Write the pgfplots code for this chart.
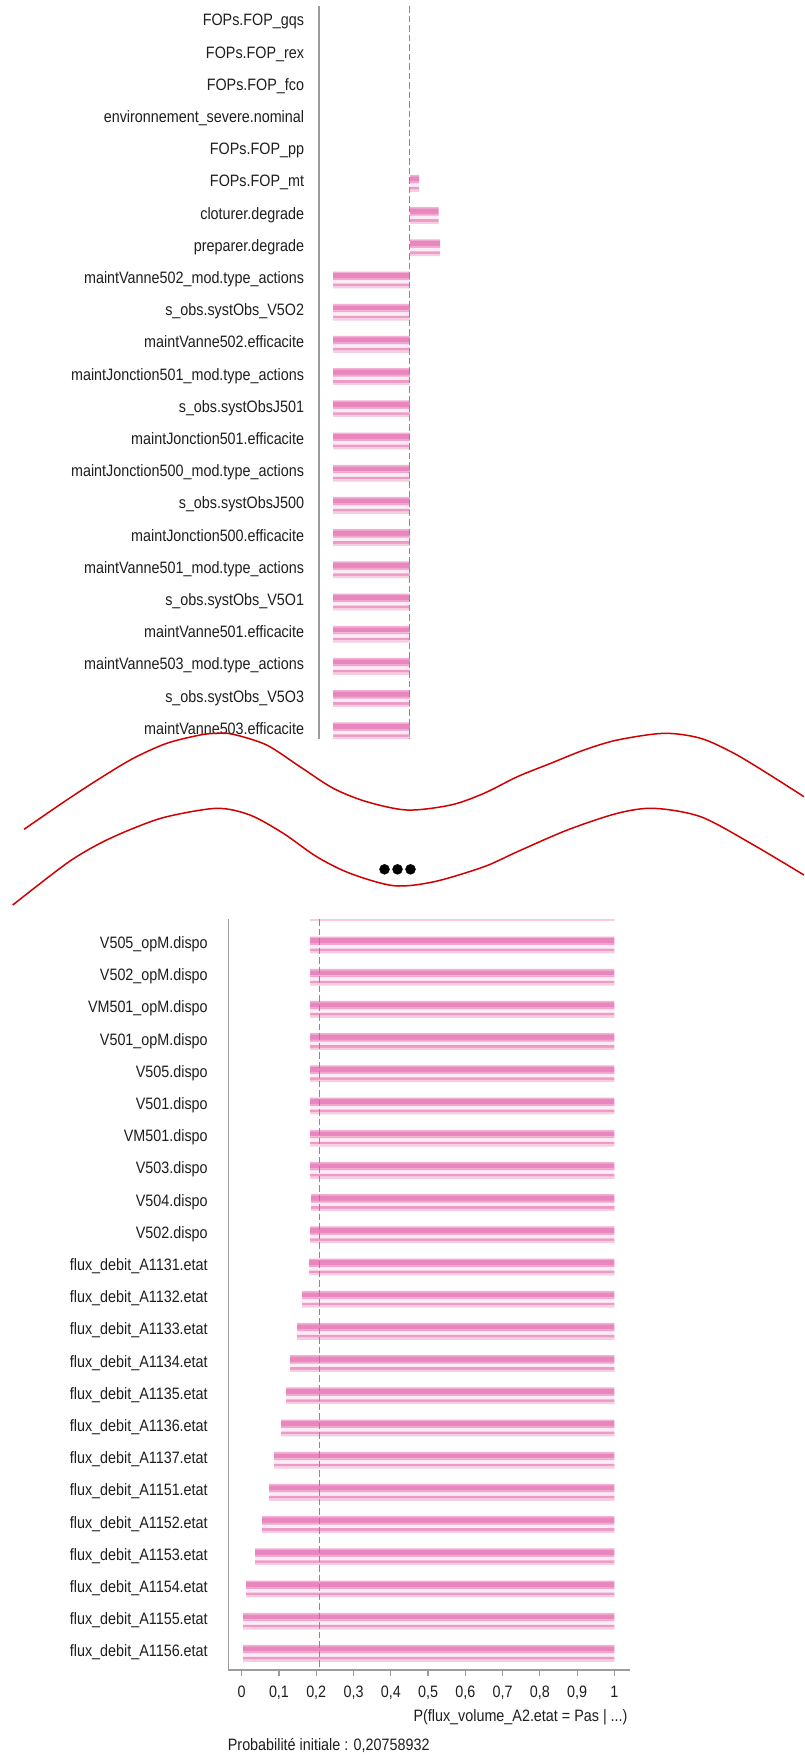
\documentclass[border=0pt]{standalone}
\usepackage{fontspec}
\setmainfont{Liberation Sans}[FakeStretch=0.87]
\usepackage{pgfplots}
\pgfplotsset{compat=1.18}
\usepackage{pgfplotstable}

\definecolor{axgray}{HTML}{9C9C9C}
\definecolor{dashgray}{HTML}{8A8A8A}
\definecolor{txt}{HTML}{1E1E1E}
\definecolor{redcurve}{HTML}{D00000}
\definecolor{bA}{HTML}{F2B0D4}
\definecolor{bB}{HTML}{E886BD}
\definecolor{bC}{HTML}{F0A6CE}
\definecolor{bD}{HTML}{FCECF4}
\definecolor{bE}{HTML}{EE9AC7}
\definecolor{bF}{HTML}{F7CDE3}

\newcommand\lblfont{\fontsize{16.5}{19}\selectfont}

% one bar = horizontal bands (top to bottom, shifts in axis units), drawn from 0 to hi;
% the part 0..lo is then covered in white
\pgfplotsset{
  band/.style 2 args={xbar, draw=none, fill=#1, bar shift=#2, forget plot},
}
\newcommand\drawbars[1]{%
  \addplot[band={bA}{-0.2360}, bar width=0.0528] table[x=hi, y=k] {#1};
  \addplot[band={bB}{-0.1351}, bar width=0.1615] table[x=hi, y=k] {#1};
  \addplot[band={bC}{-0.0264}, bar width=0.0683] table[x=hi, y=k] {#1};
  \addplot[band={bD}{0.0590}, bar width=0.1149] table[x=hi, y=k] {#1};
  \addplot[band={bE}{0.1522}, bar width=0.0839] table[x=hi, y=k] {#1};
  \addplot[band={bF}{0.2252}, bar width=0.0683] table[x=hi, y=k] {#1};
  \addplot[band={white}{0}, bar width=0.5466, draw=white, line width=1.2pt] table[x=lo, y=k] {#1};
}

% top panel: row index, low end, high end of P(flux_volume_A2.etat = Pas | ...)
\pgfplotstableread{
k lo hi
5 0.2076 0.2324
6 0.2076 0.2853
7 0.2076 0.2888
8 0 0.2076
9 0 0.2076
10 0 0.2076
11 0 0.2076
12 0 0.2076
13 0 0.2076
14 0 0.2076
15 0 0.2076
16 0 0.2076
17 0 0.2076
18 0 0.2076
19 0 0.2076
20 0 0.2076
21 0 0.2076
22 0 0.2076
}\toptable

% bottom panel
\pgfplotstableread{
k lo hi
-1 0.182 1
0 0.182 1
1 0.182 1
2 0.182 1
3 0.182 1
4 0.182 1
5 0.182 1
6 0.182 1
7 0.182 1
8 0.184 1
9 0.182 1
10 0.180 1
11 0.159 1
12 0.148 1
13 0.127 1
14 0.116 1
15 0.105 1
16 0.086 1
17 0.072 1
18 0.054 1
19 0.033 1
20 0.010 1
21 0.001 1
22 0.001 1
}\bottable

\begin{document}
\begin{tikzpicture}
\useasboundingbox (0pt,0pt) rectangle (804pt,-1755pt);

% ---------------- top panel ----------------
\begin{axis}[
  at={(319pt,-6pt)}, anchor=north west,
  scale only axis, width=401.7pt, height=733pt,
  xmin=-0.036, xmax=1.042, ymin=-0.509, ymax=22.255,
  y dir=reverse,
  axis x line=none, axis y line*=left,
  axis line style={-, draw=axgray, line width=1.3pt},
  xtick=\empty,
  ytick={0,...,22},
  yticklabels={FOPs.FOP\_gqs, FOPs.FOP\_rex, FOPs.FOP\_fco, environnement\_severe.nominal, FOPs.FOP\_pp, FOPs.FOP\_mt, cloturer.degrade, preparer.degrade, maintVanne502\_mod.type\_actions, s\_obs.systObs\_V5O2, maintVanne502.efficacite, maintJonction501\_mod.type\_actions, s\_obs.systObsJ501, maintJonction501.efficacite, maintJonction500\_mod.type\_actions, s\_obs.systObsJ500, maintJonction500.efficacite, maintVanne501\_mod.type\_actions, s\_obs.systObs\_V5O1, maintVanne501.efficacite, maintVanne503\_mod.type\_actions, s\_obs.systObs\_V5O3, maintVanne503.efficacite},
  major tick length=0pt, ytick style={draw=none},
  yticklabel style={anchor=base east, inner sep=0pt, xshift=-14.7pt, yshift=-3.5pt, font=\lblfont, text=txt},
]
\drawbars{\toptable}
\draw[dashgray, line width=1pt, dash pattern=on 6.5pt off 3pt] (axis cs:0.2076,-0.509) -- (axis cs:0.2076,22.255);
\end{axis}

% ---------------- bottom panel ----------------
\begin{axis}[
  at={(228.3pt,-919pt)}, anchor=north west,
  scale only axis, width=401.7pt, height=751pt,
  xmin=-0.036, xmax=1.042, ymin=-0.807, ymax=22.516,
  y dir=reverse,
  axis x line*=bottom, axis y line*=left,
  axis line style={-, draw=axgray, line width=1.3pt},
  xtick={0,0.1,0.2,0.3,0.4,0.5,0.6,0.7,0.8,0.9,1},
  xticklabels={0,{0,1},{0,2},{0,3},{0,4},{0,5},{0,6},{0,7},{0,8},{0,9},1},
  tick align=outside, major tick length=5.7pt,
  xtick style={draw=axgray, line width=1.1pt},
  ytick style={draw=none},
  ytick={0,...,22},
  yticklabels={V505\_opM.dispo, V502\_opM.dispo, VM501\_opM.dispo, V501\_opM.dispo, V505.dispo, V501.dispo, VM501.dispo, V503.dispo, V504.dispo, V502.dispo, flux\_debit\_A1131.etat, flux\_debit\_A1132.etat, flux\_debit\_A1133.etat, flux\_debit\_A1134.etat, flux\_debit\_A1135.etat, flux\_debit\_A1136.etat, flux\_debit\_A1137.etat, flux\_debit\_A1151.etat, flux\_debit\_A1152.etat, flux\_debit\_A1153.etat, flux\_debit\_A1154.etat, flux\_debit\_A1155.etat, flux\_debit\_A1156.etat},
  yticklabel style={anchor=base east, inner sep=0pt, xshift=-14.7pt, yshift=-3.5pt, font=\lblfont, text=txt},
  xticklabel style={anchor=base, inner sep=0pt, yshift=-22pt, font=\lblfont, text=txt},
  xlabel={P(flux\_volume\_A2.etat = Pas | ...)},
  xlabel style={at={(rel axis cs:1,0)}, anchor=base east, inner sep=0pt, xshift=-2.3pt, yshift=-51pt, font=\lblfont, text=txt},
]
\drawbars{\bottable}
\draw[dashgray, line width=1pt, dash pattern=on 6.5pt off 3pt] (axis cs:0.2076,-0.807) -- (axis cs:0.2076,22.516);
\end{axis}

% ---------------- overlay: break marks and note ----------------
\begin{axis}[
  at={(0pt,0pt)}, anchor=north west,
  scale only axis, width=804pt, height=1755pt,
  xmin=0, xmax=804, ymin=0, ymax=1755, y dir=reverse,
  hide axis,
]
\addplot[redcurve, line width=1.5pt, smooth, tension=0.5] coordinates {
 (24,829.3) (66.7,800) (100,778.3) (133.3,758.3) (166.7,743.3) (200,735) (216.7,733.3) (233.3,734.3)
 (266.7,745) (300,766.7) (333.3,788.3) (366.7,801.7) (407.3,810) (450.7,805) (484,793.3) (517.3,776.7)
 (550.7,763.3) (584,750) (617.3,740) (664,733.3) (700.7,738.3) (734,753.3) (767.3,773.3) (804,796.7)};
\addplot[redcurve, line width=1.5pt, smooth, tension=0.5] coordinates {
 (12.7,905) (66.7,863.3) (100,843.3) (133.3,828.3) (166.7,816.7) (216.7,808.3) (250,815) (283.3,833.3)
 (316.7,856.7) (350,873.3) (394,885.7) (434,881.7) (484,866.7) (517.3,851.7) (567.3,830) (617.3,813.3)
 (654,808.3) (700.7,816.7) (750.7,843.3) (804,875)};
\addplot[only marks, mark=*, mark size=5pt, black] coordinates {(384.5,869.3) (397.5,869.3) (410.5,869.3)};
\node[anchor=base west, inner sep=0pt, font=\lblfont, text=txt] at (axis cs:227.7,1750.2) {Probabilité initiale : 0,20758932};
\end{axis}
\end{tikzpicture}
\end{document}
